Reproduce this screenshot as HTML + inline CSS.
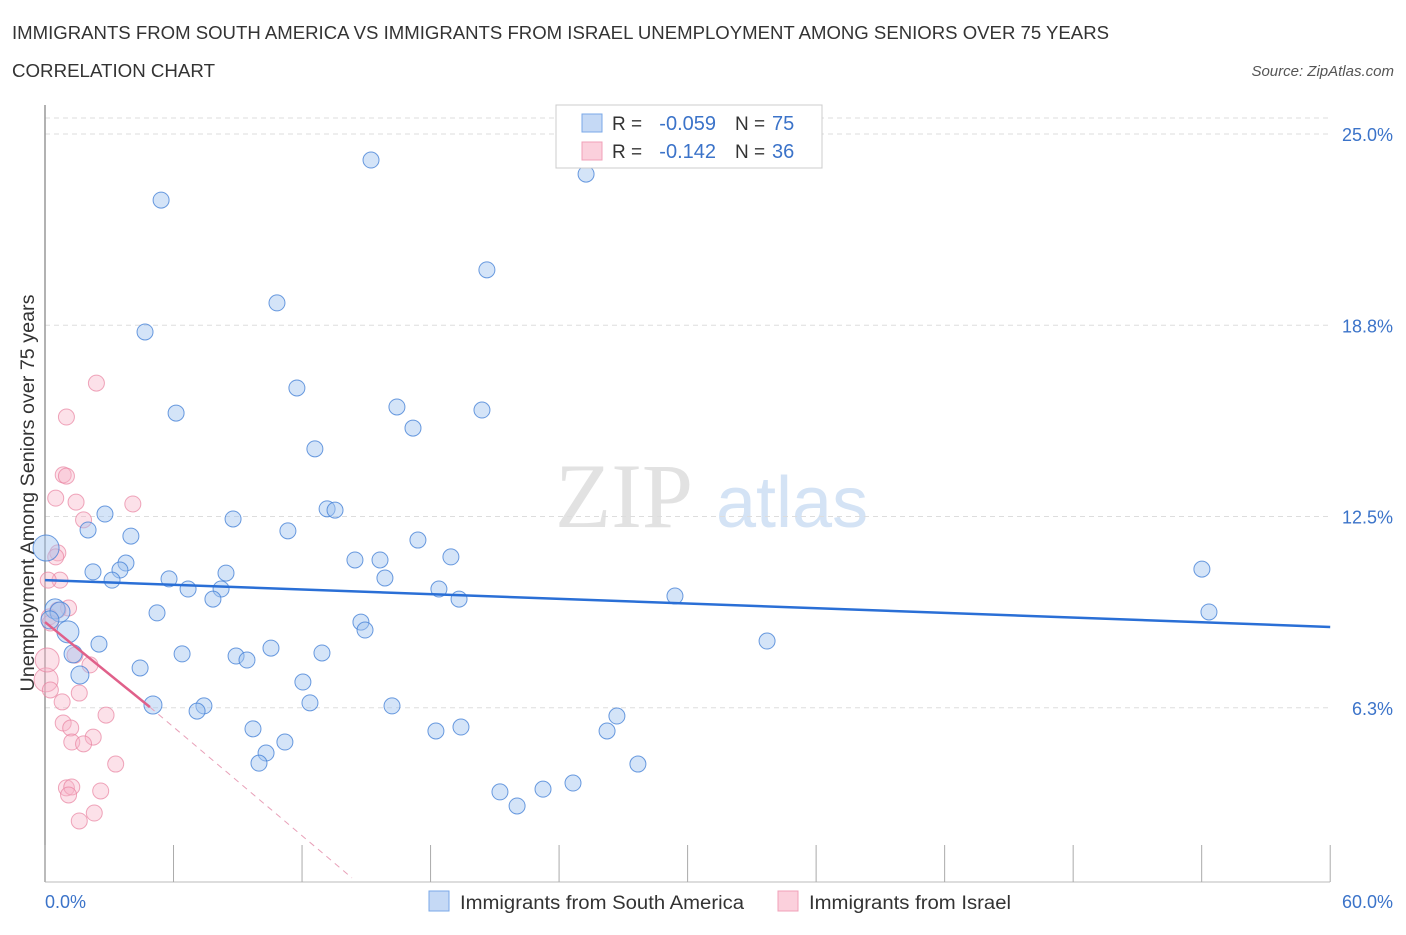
<!DOCTYPE html>
<html><head><meta charset="utf-8"><style>
body{margin:0;background:#fff;font-family:"Liberation Sans",sans-serif;}
</style></head><body>
<svg width="1406" height="930" xmlns="http://www.w3.org/2000/svg" font-family="Liberation Sans, sans-serif">
<text x="12" y="39" font-size="18" fill="#333" textLength="1097" lengthAdjust="spacingAndGlyphs">IMMIGRANTS FROM SOUTH AMERICA VS IMMIGRANTS FROM ISRAEL UNEMPLOYMENT AMONG SENIORS OVER 75 YEARS</text>
<text x="12" y="77" font-size="18" fill="#333" textLength="203" lengthAdjust="spacingAndGlyphs">CORRELATION CHART</text>
<text x="1394" y="76" font-size="15" fill="#555" font-style="italic" text-anchor="end">Source: ZipAtlas.com</text>
<text x="555" y="527" font-size="92" fill="#e2e2e2" font-family="Liberation Serif, serif">ZIP</text>
<text x="716" y="527" font-size="72" fill="#d4e3f5">atlas</text>
<g id="grid"></g>
<line x1="45" y1="105" x2="45" y2="882" stroke="#999" stroke-width="1.5"/>
<line x1="45" y1="882" x2="1330" y2="882" stroke="#bbb"/>
<g id="xticks"></g>
<text transform="translate(34,493) rotate(-90)" font-size="19" fill="#333" text-anchor="middle" textLength="397" lengthAdjust="spacingAndGlyphs">Unemployment Among Seniors over 75 years</text>
<text x="45" y="908" font-size="18" fill="#3b73c9">0.0%</text>
<text x="1393" y="908" font-size="18" fill="#3b73c9" text-anchor="end">60.0%</text>
<g id="pts"></g>
<g id="lines"></g>
<g>
<rect x="556" y="105" width="266" height="63" fill="#fff" stroke="#ccc"/>
<rect x="582" y="114" width="20" height="18" fill="#c5d9f5" stroke="#7aa8e8"/>
<rect x="582" y="142" width="20" height="18" fill="#fbd0dc" stroke="#f0a0b8"/>
<text x="612" y="130" font-size="19" fill="#333">R =</text>
<text x="716" y="130" font-size="20" fill="#3b73c9" text-anchor="end">-0.059</text>
<text x="735" y="130" font-size="19" fill="#333">N =</text>
<text x="772" y="130" font-size="20" fill="#3b73c9">75</text>
<text x="612" y="158" font-size="19" fill="#333">R =</text>
<text x="716" y="158" font-size="20" fill="#3b73c9" text-anchor="end">-0.142</text>
<text x="735" y="158" font-size="19" fill="#333">N =</text>
<text x="772" y="158" font-size="20" fill="#3b73c9">36</text>
</g>
<g>
<rect x="429" y="891" width="20" height="20" fill="#c5d9f5" stroke="#7aa8e8"/>
<text x="460" y="909" font-size="19" fill="#333" textLength="284" lengthAdjust="spacingAndGlyphs">Immigrants from South America</text>
<rect x="778" y="891" width="20" height="20" fill="#fbd0dc" stroke="#f0a0b8"/>
<text x="809" y="909" font-size="19" fill="#333" textLength="202" lengthAdjust="spacingAndGlyphs">Immigrants from Israel</text>
</g>
</svg>
<script>
const yTicks=[6.25,12.5,18.75,25];
const yTickLabels=["6.3%","12.5%","18.8%","25.0%"];
const xTicks=[0,6,12,18,24,30,36,42,48,54,60];
const blueX=[5.42,15.22,25.26,20.63,10.83,4.67,11.76,6.12,16.43,20.4,17.18,12.6,13.17,13.54,8.78,2.8,11.34,2.01,4.01,17.41,18.95,15.64,14.47,3.78,3.5,2.24,3.13,8.45,5.79,6.68,8.22,15.87,7.84,5.23,18.39,19.33,29.41,54.01,54.34,33.71,14.75,14.94,2.52,10.55,12.93,6.4,8.92,9.43,1.31,4.44,1.63,12.04,5.04,7.42,7.1,12.37,16.2,26.7,19.42,18.25,26.24,9.71,11.2,10.32,9.99,27.68,24.65,23.25,21.24,22.04,0.47,0.7,1.07,0.05,0.23];
const blueY=[22.84,24.15,23.69,20.56,19.48,18.53,16.7,15.88,16.08,15.98,15.39,14.71,12.75,12.71,12.42,12.58,12.03,12.06,11.86,11.73,11.18,11.08,11.08,10.98,10.75,10.69,10.42,10.65,10.46,10.13,10.13,10.49,9.8,9.35,10.13,9.8,9.9,10.78,9.38,8.43,9.05,8.79,8.33,8.2,8.04,8.01,7.94,7.81,8.01,7.55,7.32,7.09,6.34,6.31,6.14,6.41,6.31,5.98,5.62,5.49,5.49,5.56,5.13,4.77,4.44,4.41,3.79,3.59,3.5,3.04,9.48,9.38,8.73,11.47,9.12];
const blueR=[8,8,8,8,8,8,8,8,8,8,8,8,8,8,8,8,8,8,8,8,8,8,8,8,8,8,8,8,8,8,8,8,8,8,8,8,8,8,8,8,8,8,8,8,8,8,8,8,9,8,9,8,9,8,8,8,8,8,8,8,8,8,8,8,8,8,8,8,8,8,10,10,11,13,9];
const pinkX=[2.4,1.0,0.85,1.0,0.5,1.45,4.1,1.8,0.6,0.5,0.7,0.15,1.1,0.6,0.2,0.25,1.4,2.1,0.05,0.25,1.6,0.8,2.85,0.85,1.2,2.25,1.25,1.8,3.3,1.0,1.25,2.6,1.1,2.3,1.6,0.1];
const pinkY=[16.86,15.75,13.86,13.82,13.1,12.97,12.91,12.39,11.31,11.18,10.42,10.42,9.51,9.44,9.22,9.02,7.97,7.65,7.16,6.83,6.73,6.44,6.01,5.75,5.59,5.29,5.13,5.07,4.41,3.63,3.66,3.53,3.4,2.81,2.55,7.81];
const pinkR=[8,8,8,8,8,8,8,8,8,8,8,8,8,8,8,8,8,8,12,8,8,8,8,8,8,8,8,8,8,8,8,8,8,8,8,12];
const blueTrend=[0,10.42,60,8.89];
const pinkTrend=[0,9.05,4.9,6.27,14.33,0.69];
const NS="http://www.w3.org/2000/svg";
const xs=v=>45+v*21.42, ys=v=>899-v*30.6;
function mk(t,a,p){const e=document.createElementNS(NS,t);for(const k in a)e.setAttribute(k,a[k]);p.appendChild(e);return e;}
const g=document.getElementById('grid');
yTicks.forEach((v,i)=>{
 const l=mk('line',{x1:45,x2:1330,y1:ys(v),y2:ys(v),stroke:'#ddd','stroke-dasharray':'5,4'},g);
 
 
 const t=mk('text',{x:1393,y:ys(v)+7,'font-size':18,fill:'#3b73c9','text-anchor':'end'},g);
 t.textContent=yTickLabels[i];
 
 
});
const tl=mk('line',{x1:45,x2:1330,y1:118,y2:118,stroke:'#ddd','stroke-dasharray':'5,4'},g);


const xt=document.getElementById('xticks');
xTicks.forEach(v=>{const l=mk('line',{x1:xs(v),x2:xs(v),y1:845,y2:882,stroke:'#aaa'},xt);
 
 });
const pg=document.getElementById('pts');
pinkX.forEach((v,i)=>{const c=mk('circle',{cx:xs(v),cy:ys(pinkY[i]),r:pinkR[i],fill:'rgba(248,180,200,0.4)',stroke:'rgba(232,130,160,0.7)','stroke-width':1},pg);
 
 });
blueX.forEach((v,i)=>{const c=mk('circle',{cx:xs(v),cy:ys(blueY[i]),r:blueR[i],fill:'rgba(160,195,240,0.45)',stroke:'rgba(70,130,215,0.8)','stroke-width':1},pg);
 
 });
const lg=document.getElementById('lines');
const b=mk('line',{x1:xs(blueTrend[0]),y1:ys(blueTrend[1]),x2:xs(blueTrend[2]),y2:ys(blueTrend[3]),stroke:'#2a6fd6','stroke-width':2.5},lg);


const p=mk('line',{x1:xs(pinkTrend[0]),y1:ys(pinkTrend[1]),x2:xs(pinkTrend[2]),y2:ys(pinkTrend[3]),stroke:'#e0608a','stroke-width':2.5},lg);


const pd=mk('line',{x1:xs(pinkTrend[2]),y1:ys(pinkTrend[3]),x2:xs(pinkTrend[4]),y2:ys(pinkTrend[5]),stroke:'#e8a0b8','stroke-width':1,'stroke-dasharray':'6,5'},lg);


</script>
</body></html>
